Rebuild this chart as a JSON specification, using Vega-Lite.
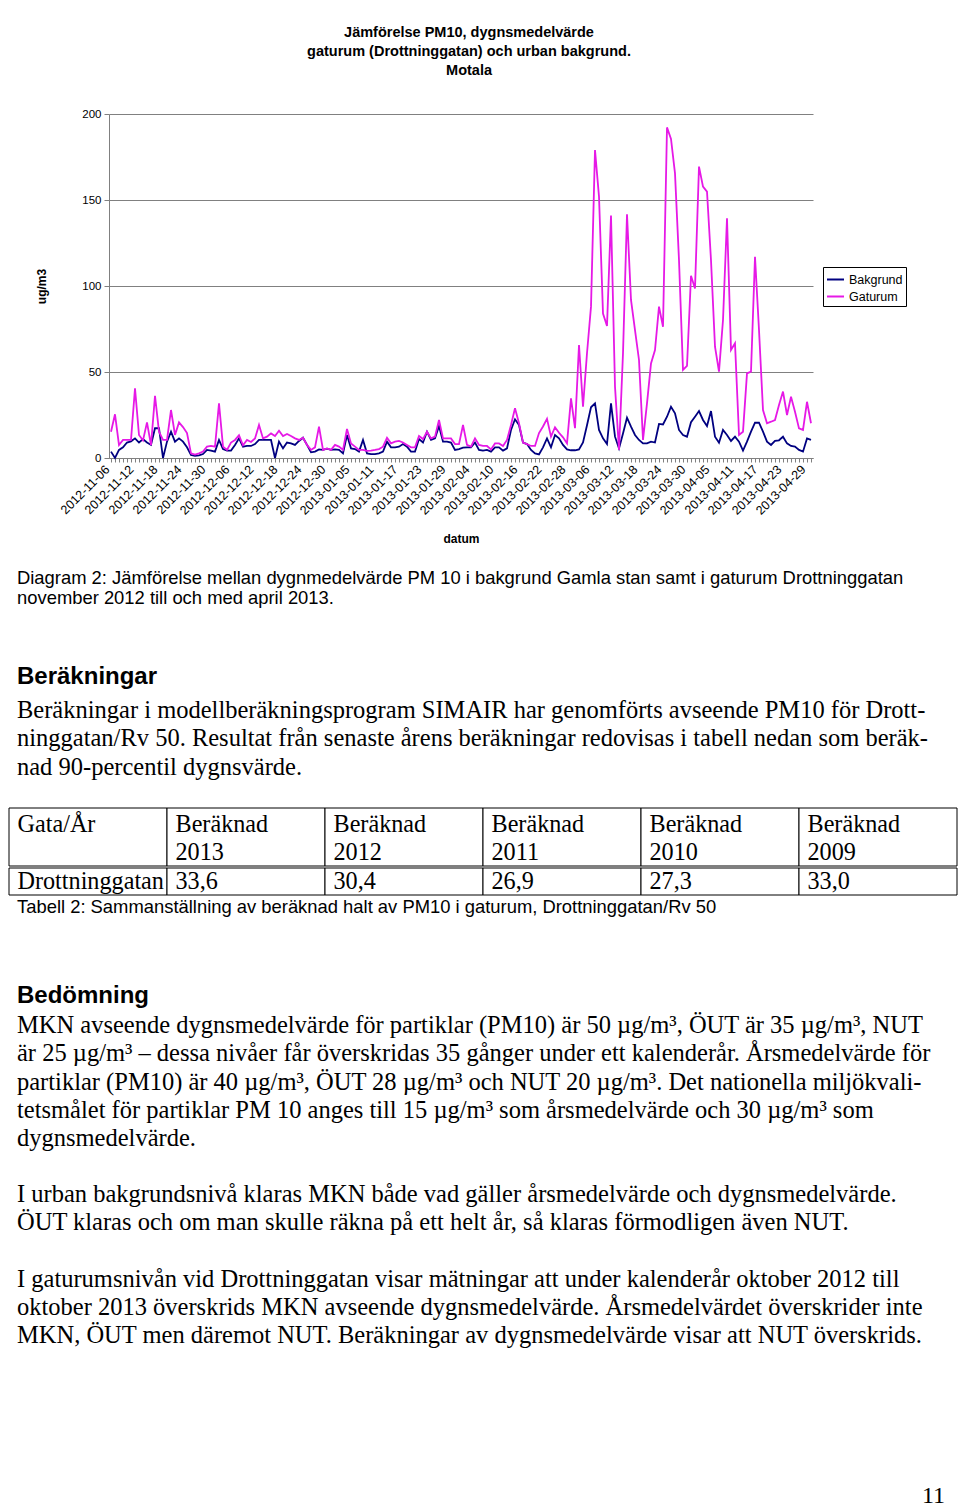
{
"$schema": "https://vega.github.io/schema/vega-lite/v6.json",
"background": "white",
"padding": {"left": 8, "top": 24, "right": 0, "bottom": 0},
"config": {"view": {"stroke": null}},
"spacing": 0,
"align": "none",
"bounds": "full",
"vconcat": [
{
"hconcat": [
{"width": 6, "height": 1, "data": {"values": []}, "mark": "text", "encoding": {}},
{
"width": 704, "height": 344,
"title": {"text": ["Jämförelse PM10, dygnsmedelvärde", "gaturum (Drottninggatan) och urban bakgrund.", "Motala"], "font": "Liberation Sans", "fontSize": 14.5, "fontWeight": "bold", "lineHeight": 19, "anchor": "middle", "offset": 30, "dx": 8, "color": "black"},
"data": {"values": [
{"datum":"2012-11-06","Bakgrund":3.7,"Gaturum":15.3},
{"datum":"2012-11-07","Bakgrund":0,"Gaturum":25.4},
{"datum":"2012-11-08","Bakgrund":4.7,"Gaturum":7.5},
{"datum":"2012-11-09","Bakgrund":6.2,"Gaturum":10.5},
{"datum":"2012-11-10","Bakgrund":9,"Gaturum":10.5},
{"datum":"2012-11-11","Bakgrund":9.7,"Gaturum":10.5},
{"datum":"2012-11-12","Bakgrund":11.4,"Gaturum":40.5},
{"datum":"2012-11-13","Bakgrund":9,"Gaturum":13.4},
{"datum":"2012-11-14","Bakgrund":11,"Gaturum":10.2},
{"datum":"2012-11-15","Bakgrund":9,"Gaturum":20.7},
{"datum":"2012-11-16","Bakgrund":7.6,"Gaturum":7.5},
{"datum":"2012-11-17","Bakgrund":17.3,"Gaturum":36.2},
{"datum":"2012-11-18","Bakgrund":17.3,"Gaturum":15.3},
{"datum":"2012-11-19","Bakgrund":0,"Gaturum":10.5},
{"datum":"2012-11-20","Bakgrund":9.5,"Gaturum":10.5},
{"datum":"2012-11-21","Bakgrund":15.3,"Gaturum":27.9},
{"datum":"2012-11-22","Bakgrund":9.5,"Gaturum":13.4},
{"datum":"2012-11-23","Bakgrund":11.4,"Gaturum":20.7},
{"datum":"2012-11-24","Bakgrund":9.5,"Gaturum":18},
{"datum":"2012-11-25","Bakgrund":6.2,"Gaturum":14.5},
{"datum":"2012-11-26","Bakgrund":1.7,"Gaturum":2.7},
{"datum":"2012-11-27","Bakgrund":1.2,"Gaturum":2},
{"datum":"2012-11-28","Bakgrund":1.5,"Gaturum":2.7},
{"datum":"2012-11-29","Bakgrund":2.3,"Gaturum":3.7},
{"datum":"2012-11-30","Bakgrund":4.7,"Gaturum":6.6},
{"datum":"2012-12-01","Bakgrund":4.3,"Gaturum":7},
{"datum":"2012-12-02","Bakgrund":3.7,"Gaturum":6.6},
{"datum":"2012-12-03","Bakgrund":10.5,"Gaturum":31.8},
{"datum":"2012-12-04","Bakgrund":5.2,"Gaturum":6.6},
{"datum":"2012-12-05","Bakgrund":4.3,"Gaturum":4.7},
{"datum":"2012-12-06","Bakgrund":4.3,"Gaturum":9},
{"datum":"2012-12-07","Bakgrund":7.6,"Gaturum":10.5},
{"datum":"2012-12-08","Bakgrund":11.4,"Gaturum":13.2},
{"datum":"2012-12-09","Bakgrund":6.6,"Gaturum":7.4},
{"datum":"2012-12-10","Bakgrund":7,"Gaturum":10.5},
{"datum":"2012-12-11","Bakgrund":7,"Gaturum":9.3},
{"datum":"2012-12-12","Bakgrund":8.1,"Gaturum":11.4},
{"datum":"2012-12-13","Bakgrund":10.5,"Gaturum":19.2},
{"datum":"2012-12-14","Bakgrund":10.5,"Gaturum":11.4},
{"datum":"2012-12-15","Bakgrund":10.5,"Gaturum":12.4},
{"datum":"2012-12-16","Bakgrund":10.5,"Gaturum":14.3},
{"datum":"2012-12-17","Bakgrund":0,"Gaturum":12.8},
{"datum":"2012-12-18","Bakgrund":9.5,"Gaturum":15.9},
{"datum":"2012-12-19","Bakgrund":5.6,"Gaturum":12.8},
{"datum":"2012-12-20","Bakgrund":9,"Gaturum":14},
{"datum":"2012-12-21","Bakgrund":8.5,"Gaturum":12.8},
{"datum":"2012-12-22","Bakgrund":7.6,"Gaturum":11.4},
{"datum":"2012-12-23","Bakgrund":9.9,"Gaturum":10.5},
{"datum":"2012-12-24","Bakgrund":11.8,"Gaturum":11.8},
{"datum":"2012-12-25","Bakgrund":7.6,"Gaturum":7.6},
{"datum":"2012-12-26","Bakgrund":3.3,"Gaturum":4.7},
{"datum":"2012-12-27","Bakgrund":3.7,"Gaturum":6.2},
{"datum":"2012-12-28","Bakgrund":5,"Gaturum":18.2},
{"datum":"2012-12-29","Bakgrund":4.7,"Gaturum":4.7},
{"datum":"2012-12-30","Bakgrund":5.4,"Gaturum":5.6},
{"datum":"2012-12-31","Bakgrund":4.7,"Gaturum":4.7},
{"datum":"2013-01-01","Bakgrund":5,"Gaturum":7.6},
{"datum":"2013-01-02","Bakgrund":4.7,"Gaturum":6.6},
{"datum":"2013-01-03","Bakgrund":2.7,"Gaturum":4.7},
{"datum":"2013-01-04","Bakgrund":13.4,"Gaturum":16.9},
{"datum":"2013-01-05","Bakgrund":5.6,"Gaturum":8.5},
{"datum":"2013-01-06","Bakgrund":5.2,"Gaturum":6.6},
{"datum":"2013-01-07","Bakgrund":3.7,"Gaturum":4.7},
{"datum":"2013-01-08","Bakgrund":10.5,"Gaturum":4.7},
{"datum":"2013-01-09","Bakgrund":2.7,"Gaturum":4.1},
{"datum":"2013-01-10","Bakgrund":2.3,"Gaturum":4.3},
{"datum":"2013-01-11","Bakgrund":2.3,"Gaturum":4.7},
{"datum":"2013-01-12","Bakgrund":2.7,"Gaturum":5.2},
{"datum":"2013-01-13","Bakgrund":3.7,"Gaturum":6.6},
{"datum":"2013-01-14","Bakgrund":9.5,"Gaturum":11.8},
{"datum":"2013-01-15","Bakgrund":6.2,"Gaturum":8.5},
{"datum":"2013-01-16","Bakgrund":6.2,"Gaturum":9.5},
{"datum":"2013-01-17","Bakgrund":6.6,"Gaturum":9.9},
{"datum":"2013-01-18","Bakgrund":8.1,"Gaturum":9},
{"datum":"2013-01-19","Bakgrund":6.6,"Gaturum":7.6},
{"datum":"2013-01-20","Bakgrund":3.7,"Gaturum":6.2},
{"datum":"2013-01-21","Bakgrund":3.7,"Gaturum":6.2},
{"datum":"2013-01-22","Bakgrund":11,"Gaturum":12.8},
{"datum":"2013-01-23","Bakgrund":9,"Gaturum":11},
{"datum":"2013-01-24","Bakgrund":15.3,"Gaturum":15.3},
{"datum":"2013-01-25","Bakgrund":10.5,"Gaturum":11.4},
{"datum":"2013-01-26","Bakgrund":11.4,"Gaturum":12.4},
{"datum":"2013-01-27","Bakgrund":18.6,"Gaturum":22.1},
{"datum":"2013-01-28","Bakgrund":9.5,"Gaturum":11.4},
{"datum":"2013-01-29","Bakgrund":9.5,"Gaturum":11.4},
{"datum":"2013-01-30","Bakgrund":9,"Gaturum":11.4},
{"datum":"2013-01-31","Bakgrund":4.7,"Gaturum":8.1},
{"datum":"2013-02-01","Bakgrund":5.2,"Gaturum":8.1},
{"datum":"2013-02-02","Bakgrund":6,"Gaturum":19.2},
{"datum":"2013-02-03","Bakgrund":6.2,"Gaturum":7.6},
{"datum":"2013-02-04","Bakgrund":6.2,"Gaturum":6.6},
{"datum":"2013-02-05","Bakgrund":9,"Gaturum":11.4},
{"datum":"2013-02-06","Bakgrund":4.7,"Gaturum":7.6},
{"datum":"2013-02-07","Bakgrund":4.3,"Gaturum":7},
{"datum":"2013-02-08","Bakgrund":4.7,"Gaturum":7},
{"datum":"2013-02-09","Bakgrund":3.7,"Gaturum":5},
{"datum":"2013-02-10","Bakgrund":6.2,"Gaturum":8.5},
{"datum":"2013-02-11","Bakgrund":6.2,"Gaturum":8.5},
{"datum":"2013-02-12","Bakgrund":4.3,"Gaturum":7},
{"datum":"2013-02-13","Bakgrund":5.6,"Gaturum":10.5},
{"datum":"2013-02-14","Bakgrund":16.3,"Gaturum":19.2},
{"datum":"2013-02-15","Bakgrund":22.5,"Gaturum":28.9},
{"datum":"2013-02-16","Bakgrund":19.2,"Gaturum":20.2},
{"datum":"2013-02-17","Bakgrund":9,"Gaturum":9},
{"datum":"2013-02-18","Bakgrund":8.1,"Gaturum":8.1},
{"datum":"2013-02-19","Bakgrund":4.7,"Gaturum":7},
{"datum":"2013-02-20","Bakgrund":2.7,"Gaturum":7},
{"datum":"2013-02-21","Bakgrund":2.1,"Gaturum":14.5},
{"datum":"2013-02-22","Bakgrund":6.2,"Gaturum":18.3},
{"datum":"2013-02-23","Bakgrund":11.4,"Gaturum":22.8},
{"datum":"2013-02-24","Bakgrund":6.2,"Gaturum":12.4},
{"datum":"2013-02-25","Bakgrund":13.4,"Gaturum":17.9},
{"datum":"2013-02-26","Bakgrund":11.4,"Gaturum":14.7},
{"datum":"2013-02-27","Bakgrund":7.6,"Gaturum":12},
{"datum":"2013-02-28","Bakgrund":5,"Gaturum":8.5},
{"datum":"2013-03-01","Bakgrund":4.5,"Gaturum":34.7},
{"datum":"2013-03-02","Bakgrund":4.5,"Gaturum":17.3},
{"datum":"2013-03-03","Bakgrund":5,"Gaturum":65.7},
{"datum":"2013-03-04","Bakgrund":9,"Gaturum":29.8},
{"datum":"2013-03-05","Bakgrund":19,"Gaturum":60.9},
{"datum":"2013-03-06","Bakgrund":29.5,"Gaturum":88},
{"datum":"2013-03-07","Bakgrund":31.8,"Gaturum":179},
{"datum":"2013-03-08","Bakgrund":16.3,"Gaturum":152},
{"datum":"2013-03-09","Bakgrund":11.4,"Gaturum":84},
{"datum":"2013-03-10","Bakgrund":8.1,"Gaturum":76.7},
{"datum":"2013-03-11","Bakgrund":31.8,"Gaturum":141},
{"datum":"2013-03-12","Bakgrund":12.4,"Gaturum":41.5},
{"datum":"2013-03-13","Bakgrund":5.6,"Gaturum":4.7},
{"datum":"2013-03-14","Bakgrund":14.3,"Gaturum":60.9},
{"datum":"2013-03-15","Bakgrund":23.4,"Gaturum":141.7},
{"datum":"2013-03-16","Bakgrund":18.2,"Gaturum":91.9},
{"datum":"2013-03-17","Bakgrund":13.4,"Gaturum":74.4},
{"datum":"2013-03-18","Bakgrund":10.5,"Gaturum":57},
{"datum":"2013-03-19","Bakgrund":8.5,"Gaturum":10.5},
{"datum":"2013-03-20","Bakgrund":8.5,"Gaturum":31.8},
{"datum":"2013-03-21","Bakgrund":9.5,"Gaturum":55},
{"datum":"2013-03-22","Bakgrund":9,"Gaturum":62.8},
{"datum":"2013-03-23","Bakgrund":19.8,"Gaturum":88},
{"datum":"2013-03-24","Bakgrund":19.5,"Gaturum":76.3},
{"datum":"2013-03-25","Bakgrund":24,"Gaturum":192.2},
{"datum":"2013-03-26","Bakgrund":29.8,"Gaturum":185.5},
{"datum":"2013-03-27","Bakgrund":26,"Gaturum":165.5},
{"datum":"2013-03-28","Bakgrund":16.3,"Gaturum":115},
{"datum":"2013-03-29","Bakgrund":13.4,"Gaturum":51.2},
{"datum":"2013-03-30","Bakgrund":12.4,"Gaturum":53.5},
{"datum":"2013-03-31","Bakgrund":20.8,"Gaturum":106},
{"datum":"2013-04-01","Bakgrund":24,"Gaturum":98.5},
{"datum":"2013-04-02","Bakgrund":27.3,"Gaturum":169.4},
{"datum":"2013-04-03","Bakgrund":22.1,"Gaturum":157.8},
{"datum":"2013-04-04","Bakgrund":18.6,"Gaturum":154.9},
{"datum":"2013-04-05","Bakgrund":27.3,"Gaturum":115},
{"datum":"2013-04-06","Bakgrund":12.4,"Gaturum":64.7},
{"datum":"2013-04-07","Bakgrund":8.9,"Gaturum":50.2},
{"datum":"2013-04-08","Bakgrund":16.3,"Gaturum":80.2},
{"datum":"2013-04-09","Bakgrund":13.4,"Gaturum":139.4},
{"datum":"2013-04-10","Bakgrund":9.9,"Gaturum":62.8},
{"datum":"2013-04-11","Bakgrund":12.4,"Gaturum":66.7},
{"datum":"2013-04-12","Bakgrund":9.5,"Gaturum":13.4},
{"datum":"2013-04-13","Bakgrund":4.3,"Gaturum":15.3},
{"datum":"2013-04-14","Bakgrund":9.5,"Gaturum":49.2},
{"datum":"2013-04-15","Bakgrund":15.3,"Gaturum":50.2},
{"datum":"2013-04-16","Bakgrund":20.5,"Gaturum":117},
{"datum":"2013-04-17","Bakgrund":20.5,"Gaturum":74.4},
{"datum":"2013-04-18","Bakgrund":15.3,"Gaturum":27.9},
{"datum":"2013-04-19","Bakgrund":9.5,"Gaturum":20.2},
{"datum":"2013-04-20","Bakgrund":7.6,"Gaturum":21.1},
{"datum":"2013-04-21","Bakgrund":10,"Gaturum":22.1},
{"datum":"2013-04-22","Bakgrund":10.3,"Gaturum":30.8},
{"datum":"2013-04-23","Bakgrund":12.4,"Gaturum":38.6},
{"datum":"2013-04-24","Bakgrund":8.5,"Gaturum":25},
{"datum":"2013-04-25","Bakgrund":7,"Gaturum":35.6},
{"datum":"2013-04-26","Bakgrund":6.6,"Gaturum":26.9},
{"datum":"2013-04-27","Bakgrund":4.7,"Gaturum":17.2},
{"datum":"2013-04-28","Bakgrund":3.7,"Gaturum":16.3},
{"datum":"2013-04-29","Bakgrund":11.4,"Gaturum":32.7},
{"datum":"2013-04-30","Bakgrund":10.5,"Gaturum":20.2}
]},
"transform": [{"fold": ["Bakgrund", "Gaturum"], "as": ["serie", "ug"]}],
"mark": {"type": "line", "strokeWidth": 1.8},
"encoding": {
"x": {"field": "datum", "type": "temporal",
 "scale": {"type": "utc", "domain": [{"year": 2012, "month": 11, "date": 5, "hours": 12, "utc": true}, {"year": 2013, "month": 4, "date": 30, "hours": 12, "utc": true}]},
 "axis": {"title": "datum", "titleFont": "Liberation Sans", "titleFontSize": 12, "titleFontWeight": "bold", "titleColor": "black", "titlePadding": 17,
  "labelFont": "Liberation Sans", "labelFontSize": 12.5, "labelColor": "black", "labelAngle": -45, "labelAlign": "right", "labelBaseline": "middle", "labelPadding": 5, "labelOffset": -4, "labelOverlap": false, "labelFlush": false,
  "labelExpr": "round((datum.value - utc(2012,10,6)) / 86400000) % 6 == 0 ? utcFormat(datum.value, '%Y-%m-%d') : ''",
  "tickCount": {"interval": "day", "step": 1}, "tickSize": 4, "tickColor": "#808080", "domainColor": "#808080", "grid": false}},
"y": {"field": "ug", "type": "quantitative", "scale": {"domain": [0, 200]},
 "axis": {"title": "ug/m3", "titleFont": "Liberation Sans", "titleFontSize": 12, "titleFontWeight": "bold", "titleColor": "black", "titlePadding": 33,
  "values": [0, 50, 100, 150, 200], "labelFont": "Liberation Sans", "labelFontSize": 11.5, "labelColor": "black", "labelPadding": 3,
  "tickSize": 5, "tickColor": "#808080", "domainColor": "#808080", "grid": true, "gridColor": "#808080", "gridWidth": 1}},
"color": {"field": "serie", "type": "nominal", "scale": {"domain": ["Bakgrund", "Gaturum"], "range": ["#000080", "#e619e6"]},
 "legend": {"title": null, "orient": "none", "legendX": 814, "legendY": 153, "strokeColor": "#000000", "fillColor": "white", "padding": 3,
  "symbolType": "stroke", "symbolSize": 289, "symbolStrokeWidth": 2, "labelFont": "Liberation Sans", "labelFontSize": 12.5, "labelColor": "black", "labelOffset": 4, "rowPadding": 1}}
}
}
],
"spacing": 20, "align": "none", "bounds": "full"
},
{
"width": 944, "height": 60,
"data": {"values": [{"rad": 1, "text": "Diagram 2: Jämförelse mellan dygnmedelvärde PM 10 i bakgrund Gamla stan samt i gaturum Drottninggatan"}, {"rad": 2, "text": "november 2012 till och med april 2013."}]},
"mark": {"type": "text", "align": "left", "baseline": "middle", "font": "Liberation Sans", "fontSize": 18.4, "dx": 8, "color": "black"},
"encoding": {
"x": {"datum": "v", "type": "nominal", "scale": {"type": "point", "padding": 0, "align": 0}, "axis": null},
"y": {"field": "rad", "type": "ordinal", "scale": {"type": "point", "padding": 1, "align": 0.825}, "axis": null},
"text": {"field": "text"}}
},
{
"width": 944, "height": 90,
"data": {"values": [{"rad": 1, "text": "Beräkningar"}]},
"mark": {"type": "text", "align": "left", "baseline": "middle", "font": "Liberation Sans", "fontSize": 24, "fontWeight": "bold", "dx": 8, "color": "black"},
"encoding": {
"x": {"datum": "v", "type": "nominal", "scale": {"type": "point", "padding": 0, "align": 0}, "axis": null},
"y": {"field": "rad", "type": "ordinal", "scale": {"type": "point", "padding": 0.5, "align": 0.7667}, "axis": null},
"text": {"field": "text"}}
},
{
"width": 944, "height": 108,
"data": {"values": [
{"rad": 1, "text": "Beräkningar i modellberäkningsprogram SIMAIR har genomförts avseende PM10 för Drott-"},
{"rad": 2, "text": "ninggatan/Rv 50. Resultat från senaste årens beräkningar redovisas i tabell nedan som beräk-"},
{"rad": 3, "text": "nad 90-percentil dygnsvärde."}]},
"mark": {"type": "text", "align": "left", "baseline": "middle", "font": "Liberation Serif", "fontSize": 24.5, "dx": 8, "color": "black"},
"encoding": {
"x": {"datum": "v", "type": "nominal", "scale": {"type": "point", "padding": 0, "align": 0}, "axis": null},
"y": {"field": "rad", "type": "ordinal", "scale": {"type": "point", "padding": 0.908, "align": 0.2335}, "axis": null},
"text": {"field": "text"}}
},
{
"width": 948, "height": 58,
"data": {"values": [
{"kol": "k1", "text": ["Gata/År", ""]},
{"kol": "k2", "text": ["Beräknad", "2013"]},
{"kol": "k3", "text": ["Beräknad", "2012"]},
{"kol": "k4", "text": ["Beräknad", "2011"]},
{"kol": "k5", "text": ["Beräknad", "2010"]},
{"kol": "k6", "text": ["Beräknad", "2009"]}]},
"layer": [
{"mark": {"type": "rect", "fill": "white", "stroke": "black", "strokeWidth": 1},
 "encoding": {"x": {"field": "kol", "type": "nominal", "scale": {"type": "band", "paddingInner": 0, "paddingOuter": 0}, "axis": null}}},
{"mark": {"type": "text", "align": "left", "baseline": "middle", "font": "Liberation Serif", "fontSize": 24.2, "lineHeight": 28, "dx": 8.5, "dy": -12, "color": "black"},
 "encoding": {"x": {"field": "kol", "type": "nominal", "bandPosition": 0, "axis": null}, "text": {"field": "text"}}}
]
},
{
"width": 948, "height": 27,
"data": {"values": [
{"kol": "k1", "text": "Drottninggatan"},
{"kol": "k2", "text": "33,6"},
{"kol": "k3", "text": "30,4"},
{"kol": "k4", "text": "26,9"},
{"kol": "k5", "text": "27,3"},
{"kol": "k6", "text": "33,0"}]},
"layer": [
{"mark": {"type": "rect", "fill": "white", "stroke": "black", "strokeWidth": 1},
 "encoding": {"x": {"field": "kol", "type": "nominal", "scale": {"type": "band", "paddingInner": 0, "paddingOuter": 0}, "axis": null}}},
{"mark": {"type": "text", "align": "left", "baseline": "middle", "font": "Liberation Serif", "fontSize": 24.2, "dx": 8.5, "color": "black"},
 "encoding": {"x": {"field": "kol", "type": "nominal", "bandPosition": 0, "axis": null}, "text": {"field": "text"}}}
]
},
{
"width": 944, "height": 68,
"data": {"values": [{"rad": 1, "text": "Tabell 2: Sammanställning av beräknad halt av PM10 i gaturum, Drottninggatan/Rv 50"}]},
"mark": {"type": "text", "align": "left", "baseline": "middle", "font": "Liberation Sans", "fontSize": 18.4, "dx": 8, "color": "black"},
"encoding": {
"x": {"datum": "v", "type": "nominal", "scale": {"type": "point", "padding": 0, "align": 0}, "axis": null},
"y": {"field": "rad", "type": "ordinal", "scale": {"type": "point", "padding": 0.5, "align": 0.1618}, "axis": null},
"text": {"field": "text"}}
},
{
"width": 944, "height": 40,
"data": {"values": [{"rad": 1, "text": "Bedömning"}]},
"mark": {"type": "text", "align": "left", "baseline": "middle", "font": "Liberation Sans", "fontSize": 24, "fontWeight": "bold", "dx": 8, "color": "black"},
"encoding": {
"x": {"datum": "v", "type": "nominal", "scale": {"type": "point", "padding": 0, "align": 0}, "axis": null},
"y": {"field": "rad", "type": "ordinal", "scale": {"type": "point", "padding": 0.5, "align": 0.8}, "axis": null},
"text": {"field": "text"}}
},
{
"width": 944, "height": 160,
"data": {"values": [
{"rad": 1, "text": "MKN avseende dygnsmedelvärde för partiklar (PM10) är 50 µg/m³, ÖUT är 35 µg/m³, NUT"},
{"rad": 2, "text": "är 25 µg/m³ – dessa nivåer får överskridas 35 gånger under ett kalenderår. Årsmedelvärde för"},
{"rad": 3, "text": "partiklar (PM10) är 40 µg/m³, ÖUT 28  µg/m³ och NUT 20 µg/m³. Det nationella miljökvali-"},
{"rad": 4, "text": "tetsmålet för partiklar PM 10 anges till 15 µg/m³ som årsmedelvärde och 30 µg/m³ som"},
{"rad": 5, "text": "dygnsmedelvärde."}]},
"mark": {"type": "text", "align": "left", "baseline": "middle", "font": "Liberation Serif", "fontSize": 24.5, "dx": 8, "color": "black"},
"encoding": {
"x": {"datum": "v", "type": "nominal", "scale": {"type": "point", "padding": 0, "align": 0}, "axis": null},
"y": {"field": "rad", "type": "ordinal", "scale": {"type": "point", "padding": 0.8319, "align": 0.383}, "axis": null},
"text": {"field": "text"}}
},
{
"width": 944, "height": 80,
"data": {"values": [
{"rad": 1, "text": "I urban bakgrundsnivå klaras MKN både vad gäller årsmedelvärde och dygnsmedelvärde."},
{"rad": 2, "text": "ÖUT klaras och om man skulle räkna på ett helt år, så klaras förmodligen även NUT."}]},
"mark": {"type": "text", "align": "left", "baseline": "middle", "font": "Liberation Serif", "fontSize": 24.5, "dx": 8, "color": "black"},
"encoding": {
"x": {"datum": "v", "type": "nominal", "scale": {"type": "point", "padding": 0, "align": 0}, "axis": null},
"y": {"field": "rad", "type": "ordinal", "scale": {"type": "point", "padding": 0.9286, "align": 0.5192}, "axis": null},
"text": {"field": "text"}}
},
{
"width": 944, "height": 105,
"data": {"values": [
{"rad": 1, "text": "I gaturumsnivån vid Drottninggatan visar mätningar att under kalenderår oktober 2012 till"},
{"rad": 2, "text": "oktober 2013 överskrids MKN avseende dygnsmedelvärde. Årsmedelvärdet överskrider inte"},
{"rad": 3, "text": "MKN, ÖUT men däremot NUT. Beräkningar av dygnsmedelvärde visar att NUT överskrids."}]},
"mark": {"type": "text", "align": "left", "baseline": "middle", "font": "Liberation Serif", "fontSize": 24.5, "dx": 8, "color": "black"},
"encoding": {
"x": {"datum": "v", "type": "nominal", "scale": {"type": "point", "padding": 0, "align": 0}, "axis": null},
"y": {"field": "rad", "type": "ordinal", "scale": {"type": "point", "padding": 0.875, "align": 0.6531}, "axis": null},
"text": {"field": "text"}}
},
{
"width": 936, "height": 156,
"data": {"values": [{"rad": 1, "text": "11"}]},
"mark": {"type": "text", "align": "right", "baseline": "middle", "font": "Liberation Serif", "fontSize": 24, "color": "black"},
"encoding": {
"x": {"datum": "v", "type": "nominal", "scale": {"type": "point", "padding": 0, "align": 1}, "axis": null},
"y": {"field": "rad", "type": "ordinal", "scale": {"type": "point", "padding": 0.5, "align": 0.9135}, "axis": null},
"text": {"field": "text"}}
}
]
}
